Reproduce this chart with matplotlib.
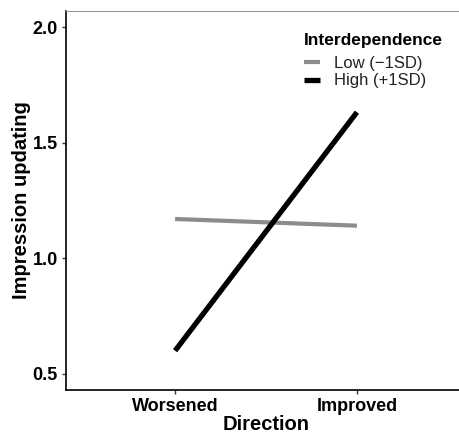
import matplotlib.pyplot as plt

plt.rcParams['font.family'] = ['Liberation Sans', 'DejaVu Sans']

directions = ['Worsened', 'Improved']
low_vals = [1.170, 1.141]
high_vals = [0.600, 1.632]
series_names = ['Low (\u22121SD)', 'High (+1SD)']

W, H = 460, 433
fig = plt.figure(figsize=(W / 100, H / 100), dpi=100)
ax = fig.add_axes([66 / W, (H - 390) / H, (466 - 66) / W, (390 - 11) / H])

x = range(len(directions))
ax.plot(x, low_vals, color='#8c8c8c', linewidth=3.0, solid_capstyle='butt', label=series_names[0])
ax.plot(x, high_vals, color='black', linewidth=3.8, solid_capstyle='butt', label=series_names[1])

ax.set_xlim(-0.6, 1.6)
ax.set_ylim(0.43, 2.07)
ax.set_xticks(list(x))
ax.set_xticklabels(directions)
ax.set_yticks([0.5, 1.0, 1.5, 2.0])
ax.set_yticklabels(['0.5', '1.0', '1.5', '2.0'])

for lab in ax.get_xticklabels() + ax.get_yticklabels():
    lab.set_fontweight('bold')
    lab.set_fontsize(13)
    lab.set_color('black')
ax.tick_params(length=3, width=1, color='#333333', pad=3)

ax.set_xlabel('Direction', fontsize=14.5, fontweight='bold', labelpad=0)
ax.set_ylabel('Impression updating', fontsize=14.5, fontweight='bold', labelpad=1)

ax.spines['right'].set_visible(False)
ax.spines['top'].set_color('#999999')
ax.spines['top'].set_linewidth(0.8)
ax.spines['left'].set_linewidth(1.2)
ax.spines['bottom'].set_linewidth(1.2)

leg = ax.legend(title='Interdependence', frameon=False, loc='upper left',
                bbox_to_anchor=(297 / W, 1 - 26 / H), bbox_transform=fig.transFigure,
                fontsize=12, title_fontproperties={'weight': 'bold', 'size': 12.5},
                handlelength=1.0, handletextpad=0.8, labelspacing=0.15, borderaxespad=0)
leg._legend_box.align = 'left'
leg._legend_box.sep = 6
for t in leg.get_texts():
    t.set_color('#222222')

fig.savefig('out.png', dpi=100)
